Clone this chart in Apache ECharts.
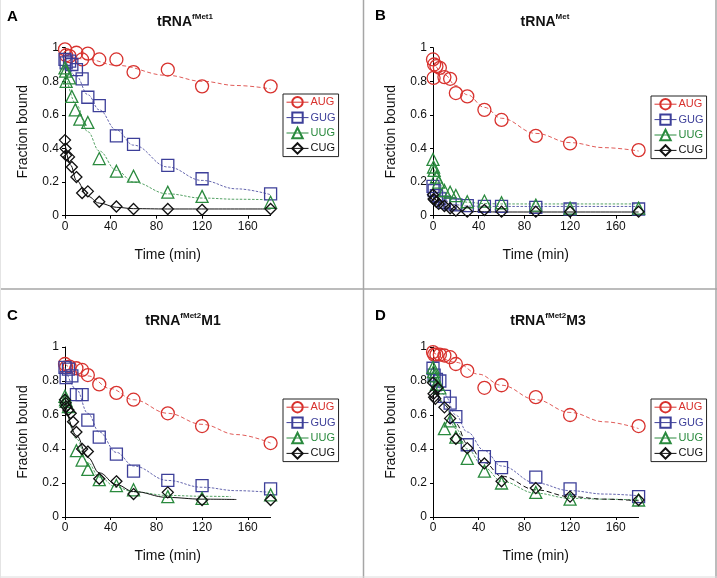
<!DOCTYPE html>
<html>
<head>
<meta charset="utf-8">
<script src="https://cdn.jsdelivr.net/npm/echarts@6/dist/echarts.min.js"></script>
<style>html,body{margin:0;padding:0;background:#fff;}#c{width:717px;height:578px;}</style>
</head>
<body>
<div id="c"></div>
<script>
// ---- data: [time (min), fraction bound] ----
const codons = ['AUG', 'GUG', 'UUG', 'CUG'];
const xTicks = [0, 40, 80, 120, 160];

const A_AUG = [[0,0.99],[1,0.955],[4,0.95],[10,0.97],[15,0.93],[20,0.965],[30,0.93],[45,0.93],[60,0.855],[90,0.87],[120,0.77],[180,0.77]];
const A_GUG = [[0,0.93],[1,0.91],[4,0.92],[6,0.90],[10,0.87],[15,0.815],[20,0.705],[30,0.655],[45,0.475],[60,0.425],[90,0.30],[120,0.22],[180,0.13]];
const A_UUG = [[0,0.88],[0.5,0.86],[1,0.80],[4,0.82],[6,0.71],[9,0.63],[13,0.575],[20,0.555],[30,0.34],[45,0.265],[60,0.235],[90,0.14],[120,0.115],[180,0.08]];
const A_CUG = [[0,0.45],[0.5,0.40],[1,0.36],[3.5,0.35],[6,0.29],[10,0.23],[15,0.135],[20,0.145],[30,0.083],[45,0.055],[60,0.04],[90,0.04],[120,0.035],[180,0.04]];
const A_AUG_fit = [[0,0.96],[20,0.93],[45,0.895],[90,0.835],[120,0.80],[150,0.775],[180,0.755]];
const A_GUG_fit = [[0,0.93],[10,0.83],[20,0.72],[30,0.63],[45,0.51],[60,0.42],[90,0.29],[120,0.21],[150,0.16],[180,0.125]];
const A_UUG_fit = [[0,0.87],[10,0.66],[20,0.50],[30,0.385],[45,0.27],[60,0.20],[90,0.13],[120,0.105],[150,0.098],[180,0.095]];
const A_CUG_fit = [[0,0.43],[5,0.30],[10,0.21],[20,0.115],[30,0.075],[45,0.05],[60,0.042],[90,0.04],[180,0.04]];

const B_AUG = [[0,0.93],[0.5,0.82],[1,0.90],[3,0.89],[6,0.88],[10,0.825],[15,0.815],[20,0.73],[30,0.71],[45,0.63],[60,0.57],[90,0.475],[120,0.43],[180,0.39]];
const B_GUG = [[0,0.175],[1,0.15],[3,0.12],[6,0.10],[10,0.08],[15,0.07],[20,0.065],[30,0.06],[45,0.055],[60,0.055],[90,0.05],[120,0.04],[180,0.04]];
const B_UUG = [[0,0.335],[0.5,0.29],[1,0.27],[3,0.23],[5,0.20],[10,0.15],[15,0.14],[20,0.12],[30,0.083],[45,0.087],[60,0.077],[90,0.063],[120,0.045],[180,0.045]];
const B_CUG = [[0,0.125],[0.5,0.10],[1,0.095],[3,0.083],[5,0.07],[10,0.058],[15,0.044],[20,0.03],[30,0.024],[45,0.034],[60,0.024],[90,0.024],[120,0.024],[180,0.024]];
const B_AUG_fit = [[0,0.92],[10,0.84],[20,0.775],[30,0.72],[45,0.645],[60,0.58],[90,0.49],[120,0.435],[150,0.405],[180,0.385]];
const B_GUG_fit = [[0,0.175],[5,0.12],[10,0.09],[20,0.065],[30,0.057],[60,0.055],[180,0.055]];
const B_UUG_fit = [[0,0.32],[5,0.20],[10,0.14],[20,0.10],[30,0.08],[45,0.072],[60,0.07],[180,0.07]];
const B_CUG_fit = [[0,0.12],[5,0.08],[10,0.055],[20,0.035],[30,0.025],[60,0.022],[180,0.022]];

const C_AUG = [[0,0.90],[1,0.88],[4,0.885],[10,0.875],[15,0.865],[20,0.835],[30,0.78],[45,0.73],[60,0.69],[90,0.61],[120,0.535],[180,0.435]];
const C_GUG = [[0,0.88],[1,0.82],[3,0.87],[6,0.83],[10,0.72],[15,0.72],[20,0.57],[30,0.47],[45,0.37],[60,0.27],[90,0.215],[120,0.185],[180,0.165]];
const C_UUG = [[0,0.71],[0.5,0.69],[1,0.68],[3,0.65],[10,0.39],[15,0.335],[20,0.28],[30,0.22],[45,0.185],[60,0.16],[90,0.12],[120,0.11],[180,0.13]];
const C_CUG = [[0,0.69],[0.5,0.67],[1,0.65],[3,0.63],[5,0.61],[7,0.56],[10,0.50],[15,0.40],[20,0.385],[30,0.225],[45,0.21],[60,0.135],[90,0.145],[120,0.10],[180,0.10]];
const C_AUG_fit = [[0,0.90],[20,0.83],[40,0.755],[60,0.69],[90,0.61],[120,0.545],[150,0.485],[180,0.435]];
const C_GUG_fit = [[0,0.88],[10,0.75],[20,0.61],[30,0.50],[45,0.38],[60,0.30],[90,0.215],[120,0.175],[150,0.155],[180,0.145]];
const C_UUG_fit = [[0,0.70],[10,0.46],[20,0.32],[30,0.235],[45,0.175],[60,0.148],[90,0.127],[120,0.122],[145,0.12]];
const C_CUG_fit = [[0,0.68],[10,0.48],[20,0.35],[30,0.26],[45,0.19],[60,0.15],[90,0.115],[120,0.105],[150,0.103]];

const D_AUG = [[0,0.97],[1,0.955],[3,0.955],[6,0.955],[10,0.95],[15,0.94],[20,0.90],[30,0.86],[45,0.76],[60,0.775],[90,0.705],[120,0.60],[180,0.535]];
const D_GUG = [[0,0.875],[1,0.835],[3,0.81],[6,0.80],[10,0.71],[15,0.67],[20,0.59],[30,0.425],[45,0.355],[60,0.29],[90,0.235],[120,0.165],[180,0.12]];
const D_UUG = [[0,0.88],[0.5,0.855],[1,0.83],[3,0.78],[6,0.76],[10,0.52],[15,0.565],[20,0.47],[30,0.345],[45,0.27],[60,0.20],[90,0.145],[120,0.105],[180,0.10]];
const D_CUG = [[0,0.79],[0.5,0.725],[1,0.705],[2,0.695],[4,0.76],[10,0.645],[15,0.58],[20,0.46],[30,0.405],[45,0.315],[60,0.21],[90,0.17],[120,0.12],[180,0.10]];
const D_AUG_fit = [[0,0.97],[20,0.91],[40,0.84],[60,0.775],[90,0.69],[120,0.615],[150,0.56],[180,0.52]];
const D_GUG_fit = [[0,0.86],[10,0.72],[20,0.60],[30,0.50],[45,0.39],[60,0.30],[90,0.20],[120,0.155],[150,0.135],[180,0.125]];
const D_UUG_fit = [[0,0.85],[10,0.66],[20,0.52],[30,0.40],[45,0.29],[60,0.21],[90,0.14],[120,0.11],[150,0.105],[180,0.10]];
const D_CUG_fit = [[0,0.78],[10,0.66],[20,0.55],[30,0.43],[45,0.32],[60,0.24],[90,0.16],[120,0.12],[150,0.105],[180,0.095]];

const panelLetters = ['A', 'B', 'C', 'D'];
const panelTitleSup = ['fMet1', 'Met', 'fMet2', 'fMet2'];
const panelTitleSuffix = ['', '', 'M1', 'M3'];

// ---- styling / layout ----
const FONT = 'Liberation Sans, Arial, sans-serif';
const colors = { AUG: '#d8322e', GUG: '#3d3f99', UUG: '#2a8a3e', CUG: '#111111' };
const symbols = { AUG: 'circle', GUG: 'rect', UUG: 'triangle', CUG: 'diamond' };
const symSize = { AUG: 13, GUG: 12, UUG: 12, CUG: 11 };
const panels = [
  { pts: [A_AUG, A_GUG, A_UUG, A_CUG], fit: [A_AUG_fit, A_GUG_fit, A_UUG_fit, A_CUG_fit] },
  { pts: [B_AUG, B_GUG, B_UUG, B_CUG], fit: [B_AUG_fit, B_GUG_fit, B_UUG_fit, B_CUG_fit] },
  { pts: [C_AUG, C_GUG, C_UUG, C_CUG], fit: [C_AUG_fit, C_GUG_fit, C_UUG_fit, C_CUG_fit] },
  { pts: [D_AUG, D_GUG, D_UUG, D_CUG], fit: [D_AUG_fit, D_GUG_fit, D_UUG_fit, D_CUG_fit] }
];
const layout = [
  { left: 65, top: 47.7, h: 168 },
  { left: 433, top: 47.7, h: 168 },
  { left: 65, top: 347, h: 170 },
  { left: 433, top: 347, h: 170 }
];
const legendPos = [
  { left: 283, top: 94 }, { left: 651, top: 96 }, { left: 283, top: 399 }, { left: 651, top: 399 }
];
const titlePos = [ { x: 185, y: 21 }, { x: 545, y: 21 }, { x: 183, y: 320 }, { x: 548, y: 320 } ];
const letterPos = [ { x: 7, y: 17 }, { x: 375, y: 16 }, { x: 7, y: 316 }, { x: 375, y: 316 } ];
const fitDash = { AUG: [4, 2.5], GUG: [2.5, 1.5], UUG: [2.5, 1.5], CUG: 'solid' };

const grid = [], xAxis = [], yAxis = [], series = [], legend = [], graphic = [];
layout.forEach((L, i) => {
  grid.push({ left: L.left, top: L.top, width: 205.6, height: L.h });
  xAxis.push({
    type: 'value', gridIndex: i, min: 0, max: 180, interval: 40,
    name: 'Time (min)', nameLocation: 'middle', nameGap: 32,
    nameTextStyle: { fontSize: 14, color: '#111', fontFamily: FONT },
    splitLine: { show: false },
    axisLine: { lineStyle: { color: '#000', width: 1 } },
    axisTick: { length: 3, lineStyle: { color: '#000' } },
    axisLabel: { fontSize: 12, color: '#111', margin: 5, fontFamily: FONT, showMaxLabel: false,
      formatter: v => (xTicks.indexOf(v) >= 0 ? String(v) : '') }
  });
  yAxis.push({
    type: 'value', gridIndex: i, min: 0, max: 1, interval: 0.2,
    name: 'Fraction bound', nameLocation: 'middle', nameGap: 35,
    nameTextStyle: { fontSize: 14, color: '#111', fontFamily: FONT },
    splitLine: { show: false },
    axisLine: { show: true, lineStyle: { color: '#000', width: 1 } },
    axisTick: { show: true, length: 3, lineStyle: { color: '#000' } },
    axisLabel: { fontSize: 12, color: '#111', margin: 6, fontFamily: FONT }
  });
  codons.forEach((c, k) => {
    series.push({
      type: 'line', name: c + ' fit ' + panelLetters[i], xAxisIndex: i, yAxisIndex: i,
      data: panels[i].fit[k], showSymbol: false, smooth: 0.4, smoothMonotone: 'x', silent: true,
      lineStyle: { color: colors[c], width: c === 'CUG' ? 1 : 0.8,
        type: (i === 3 && c === 'CUG') ? [5, 3] : fitDash[c] },
      z: 2, animation: false
    });
  });
  codons.forEach((c, k) => {
    series.push({
      type: 'line', name: c, xAxisIndex: i, yAxisIndex: i, data: panels[i].pts[k],
      symbol: symbols[c], symbolSize: symSize[c], showAllSymbol: true,
      itemStyle: { color: 'rgba(255,255,255,0)', borderColor: colors[c], borderWidth: 1.3 },
      lineStyle: { color: colors[c], width: 0 },
      z: 3, animation: false
    });
  });
  legend.push({
    orient: 'vertical', left: legendPos[i].left, top: legendPos[i].top,
    padding: [2, 3, 2, 3], itemGap: 3, itemWidth: 22, itemHeight: 13,
    borderColor: '#222', borderWidth: 1, borderRadius: 0,
    lineStyle: { width: 1, opacity: 1 },
    selectedMode: false,
    textStyle: { fontSize: 11, fontFamily: FONT, padding: [0, 0, 0, -3] },
    data: codons.map(c => ({ name: c, textStyle: { color: colors[c] } }))
  });
  graphic.push({
    type: 'text', x: titlePos[i].x, y: titlePos[i].y, silent: true,
    style: {
      text: '{a|tRNA}{s|' + panelTitleSup[i] + '}' + (panelTitleSuffix[i] ? '{a|' + panelTitleSuffix[i] + '}' : ''),
      align: 'center', verticalAlign: 'middle',
      rich: {
        a: { fontSize: 14, fontWeight: 'bold', fontFamily: FONT, fill: '#111', lineHeight: 16, verticalAlign: 'bottom' },
        s: { fontSize: 8, fontWeight: 'bold', fontFamily: FONT, fill: '#111', lineHeight: 16, verticalAlign: 'top', padding: [0, 0, 6, 0] }
      }
    }
  });
  graphic.push({
    type: 'text', x: letterPos[i].x, y: letterPos[i].y, silent: true,
    style: { text: panelLetters[i], font: 'bold 15px ' + FONT, fill: '#000', align: 'left', verticalAlign: 'middle' }
  });
});

// panel frame lines
graphic.push(
  { type: 'line', silent: true, shape: { x1: 363.5, y1: 0, x2: 363.5, y2: 578 }, style: { stroke: '#a6a6a6', lineWidth: 1.5 } },
  { type: 'line', silent: true, shape: { x1: 0, y1: 289, x2: 717, y2: 289 }, style: { stroke: '#a6a6a6', lineWidth: 1.5 } },
  { type: 'line', silent: true, shape: { x1: 716, y1: 0, x2: 716, y2: 578 }, style: { stroke: '#a6a6a6', lineWidth: 1.5 } },
  { type: 'line', silent: true, shape: { x1: 0, y1: 577, x2: 717, y2: 577 }, style: { stroke: '#dcdcdc', lineWidth: 1 } },
  { type: 'line', silent: true, shape: { x1: 0.5, y1: 0, x2: 0.5, y2: 578 }, style: { stroke: '#e4e4e4', lineWidth: 1 } }
);

const chart = echarts.init(document.getElementById('c'), null, { renderer: 'canvas' });
chart.setOption({
  backgroundColor: '#fff',
  animation: false,
  textStyle: { fontFamily: FONT },
  grid, xAxis, yAxis, series, legend, graphic
});
</script>
</body>
</html>
